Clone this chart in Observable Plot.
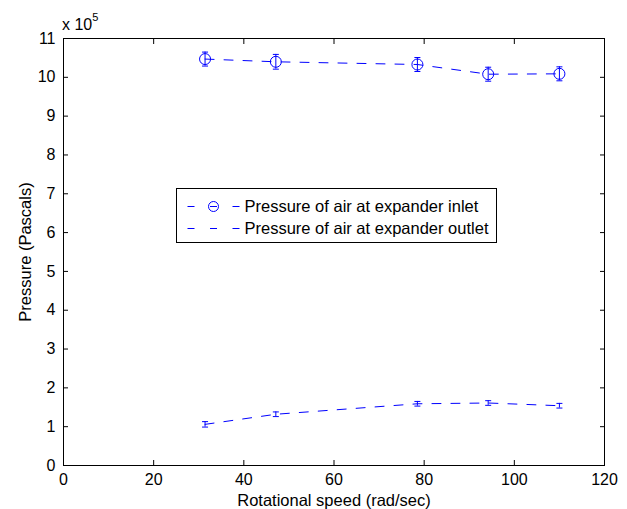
<!DOCTYPE html>
<html>
<head>
<meta charset="utf-8">
<script src="https://cdn.jsdelivr.net/npm/d3@7"></script>
<script src="https://cdn.jsdelivr.net/npm/@observablehq/plot@0.6"></script>
<style>
  html, body { margin: 0; padding: 0; background: #fff; }
  #chart svg { display: block; }
</style>
</head>
<body>
<div id="chart"></div>
<script>
// Data (pressure in units of 10^5 Pa)
const speed = [31.4, 47.1, 78.5, 94.2, 110.0];
const inletP = [10.47, 10.40, 10.33, 10.08, 10.09];
const inletErr = [0.18, 0.19, 0.18, 0.18, 0.18];
const outletP = [1.06, 1.32, 1.59, 1.61, 1.54];
const outletErr = [0.07, 0.06, 0.06, 0.06, 0.06];
const xTicks = [0, 20, 40, 60, 80, 100, 120];
const yTicks = [0, 1, 2, 3, 4, 5, 6, 7, 8, 9, 10, 11];
const seriesNames = ["Pressure of air at expander inlet", "Pressure of air at expander outlet"];

const inlet = speed.map((s, i) => ({speed: s, p: inletP[i], err: inletErr[i]}));
const outlet = speed.map((s, i) => ({speed: s, p: outletP[i], err: outletErr[i]}));

const blue = "#0000ff";
const cap = {draw(ctx, size) { const r = Math.sqrt(size / Math.PI); ctx.moveTo(-r, 0); ctx.lineTo(r, 0); }};

function errMarks(data) {
  return [
    Plot.ruleX(data, {x: "speed", y1: d => d.p - d.err, y2: d => d.p + d.err, stroke: blue, strokeWidth: 1}),
    Plot.dot(data, {x: "speed", y: d => d.p - d.err, symbol: cap, r: 3, stroke: blue, fill: "none", strokeWidth: 1}),
    Plot.dot(data, {x: "speed", y: d => d.p + d.err, symbol: cap, r: 3, stroke: blue, fill: "none", strokeWidth: 1})
  ];
}

const svg = Plot.plot({
  width: 627,
  height: 509,
  marginLeft: 63,
  marginRight: 23,
  marginTop: 38,
  marginBottom: 44,
  style: {fontFamily: "'Liberation Sans', Arial, Helvetica, sans-serif", fontSize: "16px", color: "#000", background: "#fff", overflow: "visible"},
  x: {domain: [0, 120]},
  y: {domain: [0, 11]},
  marks: [
    Plot.line(inlet, {x: "speed", y: "p", stroke: blue, strokeWidth: 1, strokeDasharray: "9,10"}),
    Plot.line(outlet, {x: "speed", y: "p", stroke: blue, strokeWidth: 1, strokeDasharray: "9,10"}),
    ...errMarks(inlet),
    ...errMarks(outlet),
    Plot.dot(inlet, {x: "speed", y: "p", r: 5.5, stroke: blue, fill: "none", strokeWidth: 1}),
    // inward ticks on all four sides
    Plot.axisX(xTicks, {anchor: "bottom", tickSize: -5, fill: "none", label: null}),
    Plot.axisX(xTicks, {anchor: "top", tickSize: -5, fill: "none", label: null}),
    Plot.axisY(yTicks, {anchor: "left", tickSize: -5, fill: "none", label: null}),
    Plot.axisY(yTicks, {anchor: "right", tickSize: -5, fill: "none", label: null}),
    // labels
    Plot.axisX(xTicks, {anchor: "bottom", tickSize: 0, tickPadding: 8, label: "Rotational speed (rad/sec)", labelAnchor: "center", labelArrow: "none", labelOffset: 40}),
    Plot.axisY(yTicks, {anchor: "left", tickSize: 0, tickPadding: 8, label: "Pressure (Pascals)", labelAnchor: "center", labelArrow: "none", labelOffset: 44}),
    Plot.frame({stroke: "#000", strokeWidth: 1})
  ]
});

document.getElementById("chart").appendChild(svg);

const s = d3.select(svg);
s.selectAll("g[aria-label='x-axis label'] text, g[aria-label='y-axis label'] text").style("font-size", "16.5px");

// exponent note
const ex = s.append("text")
  .attr("x", 62).attr("y", 30)
  .attr("text-anchor", "start")
  .attr("font-size", 16)
  .attr("fill", "#000")
  .text("x 10");
ex.append("tspan").attr("dy", -9).attr("font-size", 11).text("5");

// legend
const lg = s.append("g").attr("text-anchor", "start");
const lx = 176.5, ly = 188.5, lw = 320, lh = 54;
lg.append("rect").attr("x", lx).attr("y", ly).attr("width", lw).attr("height", lh)
  .attr("fill", "#fff").attr("stroke", "#000").attr("stroke-width", 1);
seriesNames.forEach((name, i) => {
  const cy = Math.round(ly + 17 + i * 22.6) + 0.5;
  lg.append("line").attr("x1", lx + 11).attr("x2", lx + 63).attr("y1", cy).attr("y2", cy)
    .attr("stroke", blue).attr("stroke-width", 1).attr("stroke-dasharray", "7,15.5");
  if (i === 0) {
    lg.append("circle").attr("cx", lx + 37).attr("cy", cy).attr("r", 5)
      .attr("fill", "none").attr("stroke", blue).attr("stroke-width", 1);
  }
  lg.append("text").attr("x", lx + 68).attr("y", cy).attr("dy", "0.35em")
    .attr("text-anchor", "start")
    .attr("font-size", 16.5).attr("fill", "#000").text(name);
});
</script>
</body>
</html>
